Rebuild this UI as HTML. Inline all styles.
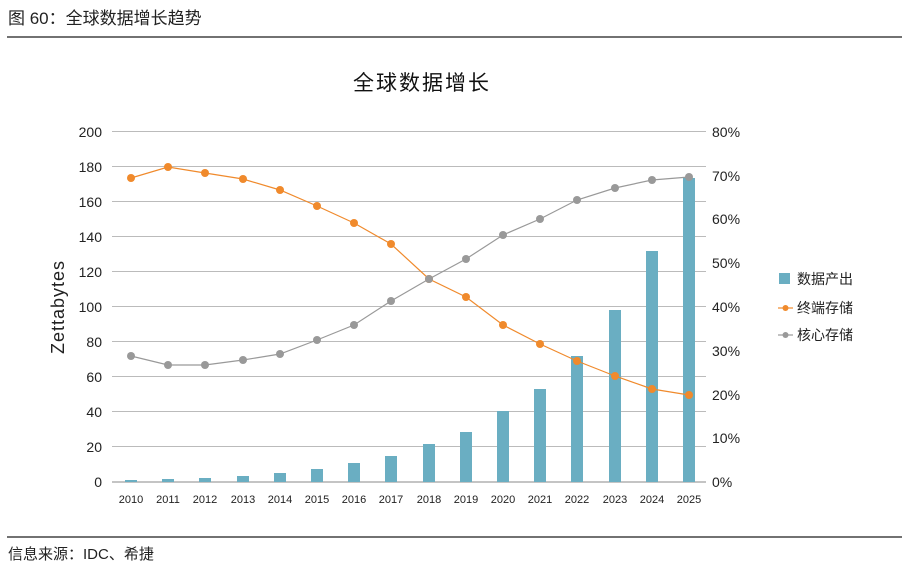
<!DOCTYPE html><html><head><meta charset="utf-8"><style>
body{margin:0;width:910px;height:568px;background:#fff;overflow:hidden}
text{font-family:"Liberation Sans","Noto Sans CJK SC",sans-serif}
</style></head><body>
<svg width="910" height="568" xmlns="http://www.w3.org/2000/svg">
<text x="8" y="24" font-size="17" fill="#222">图 60：全球数据增长趋势</text>
<line x1="7" y1="37" x2="902" y2="37" stroke="#444" stroke-width="1.5"/>
<text x="422" y="90" font-size="21" fill="#111" text-anchor="middle" letter-spacing="2">全球数据增长</text>
<g stroke="#bbb" stroke-width="1">
<line x1="112" y1="131.5" x2="706" y2="131.5"/><line x1="112" y1="166.5" x2="706" y2="166.5"/>
<line x1="112" y1="201.5" x2="706" y2="201.5"/><line x1="112" y1="236.5" x2="706" y2="236.5"/>
<line x1="112" y1="271.5" x2="706" y2="271.5"/><line x1="112" y1="306.5" x2="706" y2="306.5"/>
<line x1="112" y1="341.5" x2="706" y2="341.5"/><line x1="112" y1="376.5" x2="706" y2="376.5"/>
<line x1="112" y1="411.5" x2="706" y2="411.5"/><line x1="112" y1="446.5" x2="706" y2="446.5"/>
</g>
<line x1="112" y1="482" x2="706" y2="482" stroke="#888"/>
<g font-size="14" fill="#222" text-anchor="end">
<text x="102" y="137">200</text><text x="102" y="172">180</text><text x="102" y="207">160</text><text x="102" y="242">140</text><text x="102" y="277">120</text><text x="102" y="312">100</text><text x="102" y="347">80</text><text x="102" y="382">60</text><text x="102" y="417">40</text><text x="102" y="452">20</text><text x="102" y="487">0</text>
</g>
<g font-size="14" fill="#222">
<text x="712" y="137">80%</text><text x="712" y="181">70%</text><text x="712" y="224">60%</text><text x="712" y="268">50%</text><text x="712" y="312">40%</text><text x="712" y="356">30%</text><text x="712" y="400">20%</text><text x="712" y="443">10%</text><text x="712" y="487">0%</text>
</g>
<text transform="translate(64,307) rotate(-90)" font-size="18" fill="#222" text-anchor="middle" letter-spacing="1">Zettabytes</text>
<g fill="#6aaec2">
<rect x="125" y="480" width="12" height="2"/><rect x="162" y="479" width="12" height="3"/><rect x="199" y="478" width="12" height="4"/><rect x="237" y="476" width="12" height="6"/><rect x="274" y="473" width="12" height="9"/><rect x="311" y="469" width="12" height="13"/><rect x="348" y="463" width="12" height="19"/><rect x="385" y="456" width="12" height="26"/><rect x="423" y="444" width="12" height="38"/><rect x="460" y="432" width="12" height="50"/><rect x="497" y="411" width="12" height="71"/><rect x="534" y="389" width="12" height="93"/><rect x="571" y="356" width="12" height="126"/><rect x="609" y="310" width="12" height="172"/><rect x="646" y="251" width="12" height="231"/><rect x="683" y="178" width="12" height="304"/>
</g>
<g font-size="11" fill="#222" text-anchor="middle">
<text x="131" y="503">2010</text><text x="168" y="503">2011</text><text x="205" y="503">2012</text><text x="243" y="503">2013</text><text x="280" y="503">2014</text><text x="317" y="503">2015</text><text x="354" y="503">2016</text><text x="391" y="503">2017</text><text x="429" y="503">2018</text><text x="466" y="503">2019</text><text x="503" y="503">2020</text><text x="540" y="503">2021</text><text x="577" y="503">2022</text><text x="615" y="503">2023</text><text x="652" y="503">2024</text><text x="689" y="503">2025</text>
</g>
<g id="o">
<polyline fill="none" stroke="#f08a2c" stroke-width="1.2" points="131,178 168,167 205,173 243,179 280,190 317,206 354,223 391,244 429,279 466,297 503,325 540,344 577,361 615,376 652,389 689,395"/>
<g fill="#f08a2c"><circle cx="131" cy="178" r="4"/><circle cx="168" cy="167" r="4"/><circle cx="205" cy="173" r="4"/><circle cx="243" cy="179" r="4"/><circle cx="280" cy="190" r="4"/><circle cx="317" cy="206" r="4"/><circle cx="354" cy="223" r="4"/><circle cx="391" cy="244" r="4"/><circle cx="429" cy="279" r="4"/><circle cx="466" cy="297" r="4"/><circle cx="503" cy="325" r="4"/><circle cx="540" cy="344" r="4"/><circle cx="577" cy="361" r="4"/><circle cx="615" cy="376" r="4"/><circle cx="652" cy="389" r="4"/><circle cx="689" cy="395" r="4"/></g>
</g>
<polyline fill="none" stroke="#999" stroke-width="1.2" points="131,356 168,365 205,365 243,360 280,354 317,340 354,325 391,301 429,279 466,259 503,235 540,219 577,200 615,188 652,180 689,177"/>
<g fill="#999"><circle cx="131" cy="356" r="4"/><circle cx="168" cy="365" r="4"/><circle cx="205" cy="365" r="4"/><circle cx="243" cy="360" r="4"/><circle cx="280" cy="354" r="4"/><circle cx="317" cy="340" r="4"/><circle cx="354" cy="325" r="4"/><circle cx="391" cy="301" r="4"/><circle cx="429" cy="279" r="4"/><circle cx="466" cy="259" r="4"/><circle cx="503" cy="235" r="4"/><circle cx="540" cy="219" r="4"/><circle cx="577" cy="200" r="4"/><circle cx="615" cy="188" r="4"/><circle cx="652" cy="180" r="4"/><circle cx="689" cy="177" r="4"/></g>
<rect x="779" y="273" width="11" height="11" fill="#6aaec2"/>
<text x="797" y="284" font-size="14" fill="#222">数据产出</text>
<line x1="778" y1="308" x2="793" y2="308" stroke="#f08a2c" stroke-width="1.2"/><circle cx="785.5" cy="308" r="3" fill="#f08a2c"/>
<text x="797" y="313" font-size="14" fill="#222">终端存储</text>
<line x1="778" y1="335" x2="793" y2="335" stroke="#999" stroke-width="1.2"/><circle cx="785.5" cy="335" r="3" fill="#999"/>
<text x="797" y="340" font-size="14" fill="#222">核心存储</text>
<line x1="7" y1="537" x2="902" y2="537" stroke="#444" stroke-width="1.5"/>
<text x="8" y="559" font-size="15" fill="#222">信息来源：IDC、希捷</text>
</svg>
</body></html>
